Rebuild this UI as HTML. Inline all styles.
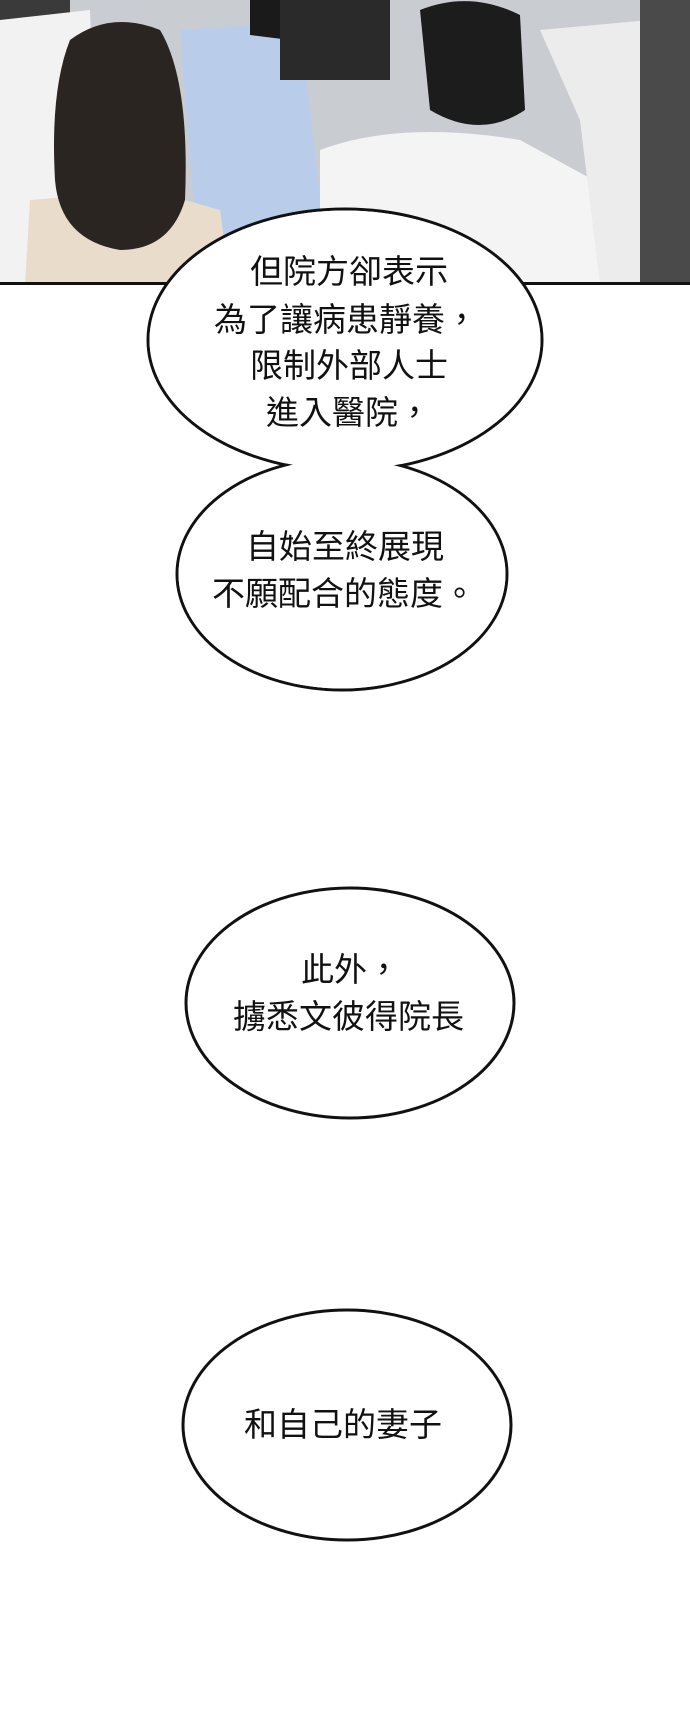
<!DOCTYPE html>
<html><head><meta charset="utf-8"><style>
html,body{margin:0;padding:0;background:#fff;}
body{width:690px;height:1709px;position:relative;overflow:hidden;font-family:"Liberation Sans","Noto Sans CJK TC",sans-serif;}
svg{position:absolute;left:0;top:0;}
.t{position:absolute;font-size:33px;line-height:47px;color:#111;white-space:nowrap;}
</style></head><body>
<svg width="690" height="1709" viewBox="0 0 690 1709">
  <rect x="0" y="0" width="690" height="285" fill="#c9cdd2"/>
  <rect x="0" y="0" width="70" height="285" fill="#3a3a3a"/>
  <path d="M0 20 L90 10 L100 285 L0 285Z" fill="#f2f2f2"/>
  <path d="M180 30 L300 20 L330 285 L200 285Z" fill="#b9cdea"/>
  <path d="M250 0 L300 0 L290 40 L250 35Z" fill="#1a1a1a"/>
  <rect x="280" y="0" width="110" height="80" fill="#2a2a2a"/>
  <path d="M30 200 L150 190 L220 210 L230 285 L25 285Z" fill="#e9dccb"/>
  <path d="M70 40 Q110 10 160 30 Q190 80 185 200 Q170 250 120 250 Q60 240 55 180 Q50 90 70 40Z" fill="#2b2522"/>
  <path d="M320 150 Q400 120 520 140 L630 200 L640 285 L320 285Z" fill="#f4f4f4"/>
  <path d="M420 10 Q470 -10 520 15 L525 110 Q480 140 430 110Z" fill="#1c1c1c"/>
  <path d="M540 30 L650 20 L690 60 L690 285 L600 285 L580 120Z" fill="#ececec"/>
  <path d="M640 0 L690 0 L690 285 L640 285Z" fill="#4a4a4a"/>
  <rect x="0" y="282" width="690" height="3" fill="#111"/>
  <ellipse cx="345" cy="340" rx="197" ry="131" fill="#fff" stroke="#111" stroke-width="3"/>
  <ellipse cx="342" cy="574" rx="165" ry="116" fill="#fff" stroke="#111" stroke-width="3"/>
  <ellipse cx="345" cy="340" rx="195.5" ry="129.5" fill="#fff"/>
  <ellipse cx="342" cy="574" rx="163.5" ry="114.5" fill="#fff"/>
  <ellipse cx="350" cy="1003" rx="164" ry="115" fill="#fff" stroke="#111" stroke-width="3"/>
  <ellipse cx="347" cy="1425" rx="164" ry="115" fill="#fff" stroke="#111" stroke-width="3"/>
</svg>
<div class="t" style="left:250px;top:248px;">但院方卻表示</div>
<div class="t" style="left:214px;top:296px;">為了讓病患靜養，</div>
<div class="t" style="left:250px;top:342px;">限制外部人士</div>
<div class="t" style="left:266px;top:389px;">進入醫院，</div>
<div class="t" style="left:246px;top:523px;">自始至終展現</div>
<div class="t" style="left:212px;top:570px;">不願配合的態度。</div>
<div class="t" style="left:301px;top:946px;">此外，</div>
<div class="t" style="left:233px;top:993px;">擄悉文彼得院長</div>
<div class="t" style="left:244px;top:1401px;">和自己的妻子</div>
</body></html>
